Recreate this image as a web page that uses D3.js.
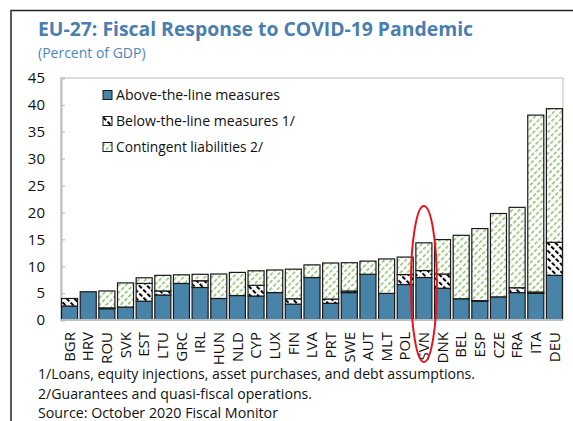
<!DOCTYPE html>
<html><head><meta charset="utf-8">
<script src="https://cdn.jsdelivr.net/npm/d3@7"></script>
<style>body{margin:0;background:#fff}svg{display:block}</style>
</head><body>
<svg id="c" width="573" height="421"></svg>
<script>
const countries = ["BGR","HRV","ROU","SVK","EST","LTU","GRC","IRL","HUN","NLD","CYP","LUX","FIN","LVA","PRT","SWE","AUT","MLT","POL","SVN","DNK","BEL","ESP","CZE","FRA","ITA","DEU"];
const above      = [2.6,5.25,2.1,2.4,3.5,4.65,6.8,6.05,4.0,4.55,4.45,5.1,2.95,7.9,3.1,5.1,8.5,4.95,6.6,7.9,5.9,3.95,3.5,4.3,5.1,4.95,8.3];
const below      = [1.4,0,0.15,0,3.3,0.75,0,1.25,0,0,2.0,0,1.0,0,0.8,0.3,0,0,1.85,1.3,2.65,0,0.1,0,0.9,0.25,6.15];
const contingent = [0,0,3.15,4.5,1.05,2.9,1.6,1.2,4.55,4.3,2.7,4.2,5.5,2.35,6.7,5.25,2.45,6.4,3.25,5.15,6.4,11.8,13.4,15.5,14.95,32.9,24.85];
const yTicks = [0,5,10,15,20,25,30,35,40,45];
const seriesNames = ["Above-the-line measures","Below-the-line measures 1/","Contingent liabilities 2/"];
const titleText = "EU-27: Fiscal Response to COVID-19 Pandemic";
const subtitleText = "(Percent of GDP)";
const footnotes = ["1/Loans, equity injections, asset purchases, and debt assumptions.","2/Guarantees and quasi-fiscal operations.","Source: October 2020 Fiscal Monitor"];
const highlighted = "SVN";

const svg = d3.select("#c");
const FONT = "'Open Sans', 'Noto Sans', sans-serif";
const plot = {left:61, right:563, top:78, bottom:320};

const keys = ["above","below","contingent"];
const table = countries.map((c,i)=>({country:c, above:above[i], below:below[i], contingent:contingent[i]}));
const stacked = d3.stack().keys(keys)(table);

const x = d3.scaleBand().domain(countries).range([plot.left, plot.right]).paddingInner(0.14).paddingOuter(0.03);
const y = d3.scaleLinear().domain([0,45]).range([plot.bottom, plot.top]);

// patterns
const defs = svg.append("defs");
const pA = defs.append("pattern").attr("id","patA").attr("patternUnits","userSpaceOnUse").attr("width",4).attr("height",4);
pA.append("rect").attr("width",4).attr("height",4).attr("fill","#4a87aa");
pA.append("path").attr("d","M0,0L4,4M4,0L0,4").attr("stroke","#3c7698").attr("stroke-width",0.6).attr("opacity",0.7);

const pB = defs.append("pattern").attr("id","patB").attr("patternUnits","userSpaceOnUse").attr("width",5.5).attr("height",6).attr("patternTransform","rotate(-45)");
pB.append("rect").attr("width",5.5).attr("height",6).attr("fill","#fff");
pB.append("rect").attr("x",0).attr("y",0).attr("width",2).attr("height",4.2).attr("fill","#000");

const pC = defs.append("pattern").attr("id","patC").attr("patternUnits","userSpaceOnUse").attr("width",5).attr("height",5.5).attr("patternTransform","rotate(45)");
pC.append("rect").attr("width",5).attr("height",5.5).attr("fill","#fff");
pC.append("rect").attr("x",0).attr("y",0).attr("width",1.5).attr("height",3.8).attr("fill","#8dbd6a");

const fills = {above:"url(#patA)", below:"url(#patB)", contingent:"url(#patC)"};

function fit(sel, w){
  const n = sel.node().getComputedTextLength();
  if (Math.abs(n-w)/w > 0.02) sel.attr("textLength", w).attr("lengthAdjust","spacingAndGlyphs");
}

// outer border
svg.append("path").attr("d","M11,421L11,10.5L573,10.5").attr("fill","none").attr("stroke","#222").attr("stroke-width",1.5);

// title
fit(svg.append("text").attr("x",38).attr("y",35.5).attr("font-family",FONT).attr("font-weight",700).attr("font-size",20).attr("fill","#4a7db0").text(titleText), 435);
fit(svg.append("text").attr("x",38).attr("y",57.5).attr("font-family",FONT).attr("font-size",14).attr("fill","#4f86c0").text(subtitleText), 108);

// plot frame
svg.append("rect").attr("x",plot.left).attr("y",plot.top).attr("width",plot.right-plot.left).attr("height",plot.bottom-plot.top).attr("fill","none").attr("stroke","#c8c8c8").attr("stroke-width",1.2);

// y axis
const yAxis = svg.append("g").attr("transform",`translate(${plot.left},0)`)
  .call(d3.axisLeft(y).tickValues(yTicks).tickSize(-4).tickPadding(16));
yAxis.select(".domain").attr("stroke","#bfbfbf").attr("stroke-width",2);
yAxis.selectAll(".tick line").attr("stroke","#bfbfbf").attr("stroke-width",1.2);
yAxis.selectAll(".tick text").attr("font-family",FONT).attr("font-size",15).attr("fill","#111");

// bars
const g = svg.append("g");
stacked.forEach(layer=>{
  g.append("g").selectAll("rect").data(layer.filter(d=>d[1]-d[0]>0)).join("rect")
    .attr("x",d=>x(d.data.country)).attr("width",x.bandwidth())
    .attr("y",d=>y(d[1])).attr("height",d=>y(d[0])-y(d[1]))
    .attr("fill",fills[layer.key]).attr("stroke","#1a1a1a").attr("stroke-width",1.2);
});

// x axis
svg.append("line").attr("x1",plot.left).attr("x2",plot.right).attr("y1",plot.bottom).attr("y2",plot.bottom).attr("stroke","#bfbfbf").attr("stroke-width",2);
const xAxis = svg.append("g").attr("transform",`translate(0,${plot.bottom})`)
  .call(d3.axisBottom(x).tickSize(0).tickPadding(0));
xAxis.select(".domain").remove();
xAxis.selectAll(".tick text").attr("font-family",FONT).attr("font-size",15).attr("fill","#111")
  .attr("text-anchor","end").attr("transform","rotate(-90)").attr("x",-12).attr("y",0).attr("dy","0.35em");

// legend
const lg = svg.append("g");
seriesNames.forEach((name,i)=>{
  const cy = 95 + i*26;
  lg.append("rect").attr("x",103).attr("y",cy-4.5).attr("width",9).attr("height",9).attr("fill",fills[keys[i]]).attr("stroke","#1a1a1a").attr("stroke-width",1);
  const t = lg.append("text").attr("x",116).attr("y",cy+5).attr("font-family",FONT).attr("font-size",15).attr("fill","#111").text(name);
  fit(t, [164,179,147][i]);
});

// footnotes
footnotes.forEach((f,i)=>{
  const t = svg.append("text").attr("x",38).attr("y",379+i*19.5).attr("font-family",FONT).attr("font-size",15).attr("fill","#111").text(f);
  fit(t, [437,274,240][i]);
});

// highlight ellipse
svg.append("ellipse").attr("cx",x(highlighted)+x.bandwidth()/2).attr("cy",284).attr("rx",13).attr("ry",78)
  .attr("fill","none").attr("stroke","#e8141b").attr("stroke-width",2);
</script>
</body></html>
